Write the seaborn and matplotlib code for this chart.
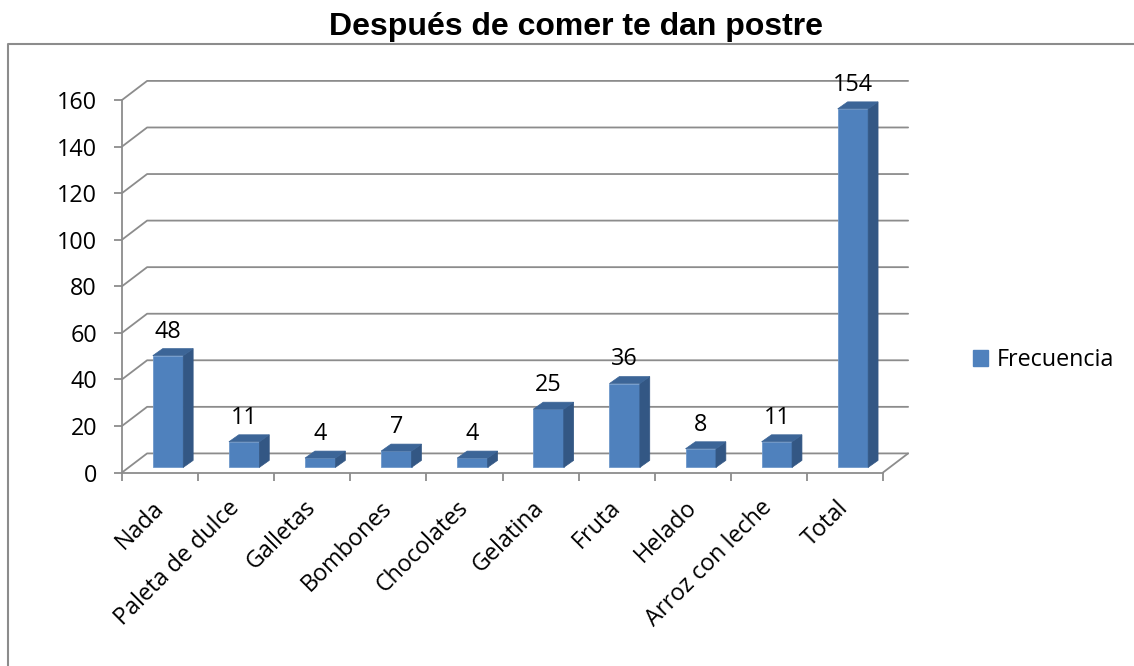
import matplotlib
matplotlib.use("Agg")
import matplotlib.pyplot as plt
import numpy as np
import pandas as pd
import seaborn as sns
from matplotlib.lines import Line2D
from matplotlib.patches import Patch, Polygon


CATEGORIES = ["Nada", "Paleta de dulce", "Galletas", "Bombones", "Chocolates",
              "Gelatina", "Fruta", "Helado", "Arroz con leche", "Total"]
FRECUENCIA = [48, 11, 4, 7, 4, 25, 36, 8, 11, 154]
Y_TICKS = [0, 20, 40, 60, 80, 100, 120, 140, 160]
SERIES_NAME = "Frecuencia"
TITLE = "Después de comer te dan postre"

FRONT = "#4F81BD"
SIDE = "#335784"
TOP = "#3C6597"
GRID = "#8C8C8C"
FS = 16.8

# fake 3D depth, in data units (x: categories, y: values)
WALL_DX, WALL_DY = 0.33, 8.2
BAR_OX, BAR_OY = 0.105, 2.2
BAR_DX, BAR_DY = 0.13, 3.0


def main() -> None:
    sns.set_theme(style="white")
    plt.rcParams["font.family"] = ["Open Sans", "DejaVu Sans"]
    plt.rcParams["text.color"] = "black"

    df = pd.DataFrame({"cat": CATEGORIES, "freq": FRECUENCIA})

    fig = plt.figure(figsize=(11.34, 6.66), dpi=100)
    ax = fig.add_axes([122 / 1134, 1 - 472.5 / 666, 761 / 1134, 372.5 / 666])

    sns.barplot(data=df, x="cat", y="freq", color=FRONT, saturation=1,
                width=0.4, ax=ax, zorder=3)
    ax.set_xlim(-0.5, len(CATEGORIES) - 0.5)
    ax.set_ylim(0, 160)

    # back wall gridlines with diagonal to the y axis
    x0, x1 = -0.5, len(CATEGORIES) - 0.5
    for v in Y_TICKS:
        ax.plot([x0, x0 + WALL_DX, x1 + WALL_DX], [v, v + WALL_DY, v + WALL_DY],
                color=GRID, lw=1.3, clip_on=False, zorder=1)
    ax.plot([x1, x1 + WALL_DX], [0, WALL_DY], color=GRID, lw=1.3,
            clip_on=False, zorder=1)

    # shift bars into the depth and add side/top faces
    for patch, val in zip(ax.patches, FRECUENCIA):
        patch.set_x(patch.get_x() + BAR_OX)
        patch.set_y(BAR_OY)
        patch.set_edgecolor("#6E98CB")
        patch.set_linewidth(0.6)
        bx0 = patch.get_x()
        bx1 = bx0 + patch.get_width()
        by0 = BAR_OY
        by1 = BAR_OY + patch.get_height()
        side = Polygon([(bx1, by0), (bx1 + BAR_DX, by0 + BAR_DY),
                        (bx1 + BAR_DX, by1 + BAR_DY), (bx1, by1)],
                       closed=True, facecolor=SIDE, edgecolor=SIDE, lw=0.5,
                       zorder=3, clip_on=False)
        top = Polygon([(bx0, by1), (bx0 + BAR_DX, by1 + BAR_DY),
                       (bx1 + BAR_DX, by1 + BAR_DY), (bx1, by1)],
                      closed=True, facecolor=TOP, edgecolor=TOP, lw=0.5,
                      zorder=3, clip_on=False)
        ax.add_patch(side)
        ax.add_patch(top)
        ax.annotate(f"{val}", xy=((bx0 + bx1) / 2, by1 + BAR_DY),
                    xytext=(0, 8), textcoords="offset points",
                    ha="center", va="baseline", fontsize=FS, color="black",
                    annotation_clip=False, zorder=5)

    # axes styling
    for name in ["top", "right"]:
        ax.spines[name].set_visible(False)
    for name in ["left", "bottom"]:
        ax.spines[name].set_color(GRID)
        ax.spines[name].set_linewidth(1.3)
        ax.spines[name].set_zorder(4)

    ax.set_yticks(Y_TICKS)
    ax.set_yticklabels([str(t) for t in Y_TICKS])
    ax.set_xticks(np.arange(len(CATEGORIES)))
    ax.set_xticks(np.arange(-0.5, len(CATEGORIES)), minor=True)
    ax.set_xticklabels(CATEGORIES, rotation=45, ha="right",
                       rotation_mode="anchor", va="center")
    ax.tick_params(axis="y", which="major", left=True, length=6, width=1.3,
                   color=GRID, pad=12, labelsize=FS, labelcolor="black")
    ax.tick_params(axis="x", which="major", length=0, pad=23,
                   labelsize=FS, labelcolor="black")
    ax.tick_params(axis="x", which="minor", bottom=True, length=6, width=1.3,
                   color=GRID)
    ax.set_xlabel("")
    ax.set_ylabel("")

    fig.legend(handles=[Patch(facecolor=FRONT, edgecolor=FRONT)],
               labels=[SERIES_NAME], loc="center left",
               bbox_to_anchor=(973 / 1134, 1 - 360 / 666), frameon=False,
               fontsize=FS, handlelength=0.65, handleheight=0.65,
               handletextpad=0.35, borderpad=0, borderaxespad=0,
               labelcolor="black")

    fig.text(576 / 1134, 1 - 27 / 666, TITLE, ha="center", va="center",
             fontsize=23, fontweight="bold", color="black",
             family=["Liberation Sans", "DejaVu Sans"])

    # chart border (only left and top visible in the crop)
    fig.add_artist(Line2D([8 / 1134, 8 / 1134, 1.0],
                          [0.0, 1 - 44 / 666, 1 - 44 / 666],
                          transform=fig.transFigure, color=GRID, lw=1.5))

    fig.savefig("out.png", dpi=100)
    plt.close(fig)


if __name__ == "__main__":
    main()
